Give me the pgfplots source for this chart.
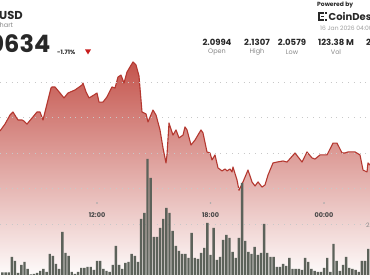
\documentclass[border=0pt]{standalone}
\usepackage{pgfplots}
\usepackage{pgfplotstable}
\pgfplotsset{compat=1.18}
\usepackage{fontspec}
\setmainfont{Poppins}
\definecolor{linered}{RGB}{180,56,48}
\definecolor{filltop}{RGB}{196,84,76}
\definecolor{fillmid}{RGB}{236,190,186}
\definecolor{barcol}{RGB}{92,98,90}
\definecolor{gridc}{RGB}{200,200,200}
\definecolor{txtdark}{RGB}{40,40,40}
\definecolor{txtgray}{RGB}{135,135,135}
\definecolor{downred}{RGB}{200,30,30}

\pgfplotstableread{
t p
6.873 2.0924
7.137 2.0963
7.402 2.1014
7.560 2.1031
7.719 2.1003
7.824 2.0986
8.036 2.0986
8.141 2.0980
8.300 2.0963
8.564 2.0997
8.829 2.1031
8.987 2.1031
9.146 2.0986
9.568 2.1166
9.621 2.1172
9.780 2.1172
10.044 2.1138
10.255 2.1110
10.467 2.1138
10.837 2.1155
11.207 2.1183
11.260 2.1194
11.418 2.1144
11.577 2.1110
11.841 2.1127
12.000 2.1138
12.105 2.1087
12.317 2.1087
12.528 2.1116
12.792 2.1172
12.951 2.1166
13.109 2.1228
13.268 2.1239
13.427 2.1194
13.585 2.1256
13.744 2.1285
13.902 2.1313
14.061 2.1296
14.219 2.1234
14.378 2.1031
14.589 2.1020
14.695 2.0975
14.959 2.1042
15.118 2.1014
15.329 2.0930
15.488 2.0828
15.646 2.0744
15.699 2.0789
15.805 2.0969
16.016 2.0901
16.175 2.0930
16.334 2.0885
16.545 2.0901
16.651 2.0947
16.756 2.0930
16.968 2.0845
17.179 2.0873
17.496 2.0930
17.602 2.0913
17.813 2.0806
17.972 2.0800
18.078 2.0761
18.236 2.0789
18.395 2.0716
18.606 2.0699
18.765 2.0710
18.870 2.0699
19.029 2.0710
19.135 2.0693
19.187 2.0721
19.399 2.0648
19.505 2.0590
19.716 2.0637
19.980 2.0704
20.192 2.0637
20.351 2.0614
20.509 2.0637
20.720 2.0608
20.879 2.0620
21.038 2.0676
21.302 2.0744
21.513 2.0749
21.830 2.0755
22.042 2.0749
22.465 2.0800
22.835 2.0749
23.099 2.0806
23.363 2.0772
23.522 2.0766
23.786 2.0789
24.156 2.0789
24.473 2.0856
24.684 2.0856
24.949 2.0800
25.107 2.0800
25.266 2.0806
25.636 2.0806
25.900 2.0789
26.059 2.0704
26.270 2.0693
26.322 2.0744
26.428 2.0732
}\price

\pgfplotstableread{
m v
0 2.5
10 2.5
20 2.5
30 18
40 14
50 2
60 10
70 13
80 6
90 0.5
100 1
110 2
120 4
130 6
140 3
150 21
160 19
170 11
180 6
190 43
200 22
210 19
220 3
230 1
240 3
250 7
260 7
270 8
280 8
290 5
300 14
310 14
320 6
330 4
340 3
350 10
360 29
370 10
380 6
390 12
400 13
410 21
420 19
430 13
440 56
450 62
460 116
470 97
480 38
490 38
500 47
510 56
520 67
530 62
540 44
550 29
560 24
570 21
580 21
590 17
600 42
610 17
620 16
630 22
640 27
650 52
660 20
670 47
680 15
690 18
700 35
710 40
720 37
730 23
740 17
750 37
760 92
770 34
780 23
790 21
800 28
810 20
820 22
830 51
840 22
850 18
860 18
870 8
880 8
890 11
900 9
910 17
920 6
930 6
940 6
950 5
960 17
970 13
980 6
990 4
1000 3
1010 3
1020 7
1030 17
1040 3
1050 31
1060 14
1070 4
1080 10
1090 18
1100 7
1110 6
1120 5
1130 3
1140 14
1150 14
1160 26
}\volume

\begin{document}
\begin{tikzpicture}[x=1pt,y=1pt]
\useasboundingbox (0,0) rectangle (370,280);
\clip (0,0) rectangle (370,280);
\fill[white] (0,0) rectangle (370,280);

% price axis
\begin{axis}[at={(0,0)}, anchor=south west, scale only axis,
  width=370pt, height=280pt,
  xmin=6.873, xmax=26.428, ymin=2.00845, ymax=2.1662,
  axis line style={draw=none}, major tick length=0pt,
  ytick={2.04,2.06,2.08,2.10,2.12}, yticklabels={},
  ymajorgrids, major grid style={gridc, line width=0.8pt, dash pattern=on 0.8pt off 5pt},
  xtick={12,18,24}, xticklabels={12:00,18:00,00:00},
  xticklabel style={anchor=center, yshift=65pt, font=\fontsize{6.5}{7}\selectfont\bfseries, text=txtdark!85},
  axis on top,
]
\addplot[draw=none, top color=filltop, middle color=fillmid, bottom color=white]
  table[x=t, y=p] {\price} -- (axis cs:26.428,2.00845) -- (axis cs:6.873,2.00845) -- cycle;
\addplot[linered, line width=1.1pt, line join=round] table[x=t, y=p] {\price};
\addplot[only marks, mark=*, mark size=0.6pt, txtgray!70, mark options={draw=none, fill=txtgray!70}]
  coordinates {(12,2.0518) (18,2.0518) (24,2.0518)};
\end{axis}

% volume axis
\begin{axis}[at={(0,0)}, anchor=south west, scale only axis,
  width=370pt, height=280pt,
  xmin=-7.62, xmax=1165.68, ymin=-5, ymax=275,
  hide axis,
]
\addplot[ybar, bar width=2.4pt, fill=barcol, draw=none] table[x=m, y=v] {\volume};
\end{axis}

% header left
\node[anchor=west, inner sep=0pt, text=txtdark] at (-1,265) {\fontsize{11.5}{12}\selectfont\bfseries USD};
\node[anchor=west, inner sep=0pt, text=txtgray] at (-5.5,255) {\fontsize{6.5}{7}\selectfont Chart};
\node[anchor=base east, inner sep=0pt, text=txtdark] at (50.5,227.5) {\fontsize{24}{26}\selectfont\bfseries 2.0634};
\node[anchor=west, inner sep=0pt, text=txtdark] at (57,228) {\fontsize{6}{7}\selectfont\bfseries -1.71\%};
\fill[downred] (85,230.5) -- (91,230.5) -- (88,225.5) -- cycle;

% header right
\node[anchor=west, inner sep=0pt, text=txtdark] at (317,275) {\fontsize{6}{7}\selectfont\bfseries Powered by};
\fill[txtdark] (318,259) rectangle (320,268);
\fill[txtdark] (318,266) rectangle (324,268);
\fill[txtdark] (318,259) rectangle (324,261);
\fill[txtdark] (321,262.7) rectangle (324,264.3);
\fill[txtdark] (325,266) rectangle (327,268);
\fill[txtdark] (325,259) rectangle (327,261);
\node[anchor=west, inner sep=0pt, text=txtdark] at (328.5,263.5) {\fontsize{10}{11}\selectfont\bfseries CoinDesk};
\node[anchor=west, inner sep=0pt, text=txtgray!80] at (320,252) {\fontsize{6}{7}\selectfont 16 Jan 2026 04:00};

\foreach \xx/\num/\lab in {217/2.0994/Open, 257/2.1307/High, 292/2.0579/Low, 336/123.38 M/Vol} {
  \node[inner sep=0pt, text=txtdark] at (\xx,238) {\fontsize{8.5}{9}\selectfont\bfseries \num};
  \node[inner sep=0pt, text=txtgray] at (\xx,228) {\fontsize{6.5}{7}\selectfont \lab};
}
\node[anchor=west, inner sep=0pt, text=txtdark] at (366,238) {\fontsize{8.5}{9}\selectfont\bfseries 2.06};
\node[anchor=west, inner sep=0pt, text=txtgray] at (366,55) {\fontsize{6}{7}\selectfont 2.04};
\end{tikzpicture}
\end{document}
